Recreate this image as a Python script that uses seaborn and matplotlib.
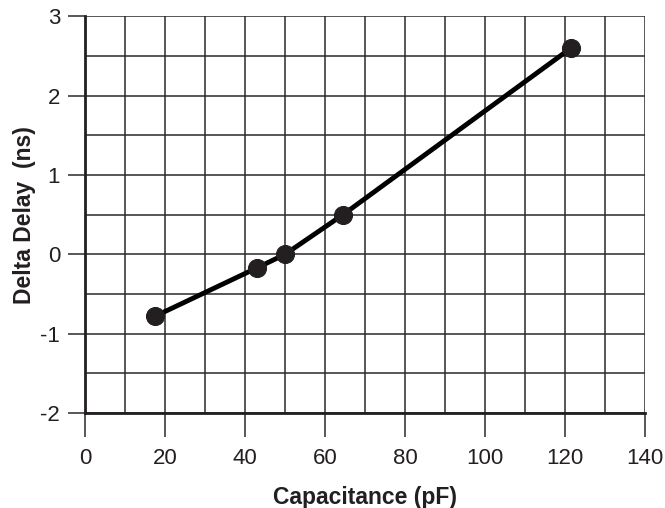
import numpy as np
import pandas as pd
import matplotlib
matplotlib.use("Agg")
import matplotlib.pyplot as plt
import seaborn as sns
from matplotlib.ticker import MultipleLocator

# data
capacitance = [17.5, 43, 50, 64.5, 121.5]
delta_delay = [-0.78, -0.17, 0.0, 0.5, 2.6]
x_ticks = [0, 20, 40, 60, 80, 100, 120, 140]
y_ticks = [-2, -1, 0, 1, 2, 3]

df = pd.DataFrame({"cap": capacitance, "delay": delta_delay})

sns.set_style("white")
plt.rcParams['font.family'] = ['Liberation Sans', 'DejaVu Sans']
plt.rcParams['axes.unicode_minus'] = False

fig = plt.figure(figsize=(6.65, 5.08), dpi=100)
ax = fig.add_axes([0.128, 0.187, 0.842, 0.781])

sns.lineplot(data=df, x="cap", y="delay", ax=ax, color="black", linewidth=3.5,
             marker="o", markersize=13, markerfacecolor="#231f20",
             markeredgecolor="#231f20", zorder=5)

ax.set_xlim(0, 140)
ax.set_ylim(-2, 3)
ax.set_xticks(x_ticks)
ax.set_yticks(y_ticks)
ax.xaxis.set_minor_locator(MultipleLocator(10))
ax.yaxis.set_minor_locator(MultipleLocator(0.5))
ax.grid(True, which="both", color="#2a2a2a", linewidth=1.1)
ax.set_axisbelow(True)

for s in ["top", "right"]:
    ax.spines[s].set_visible(False)
for s in ["left", "bottom"]:
    ax.spines[s].set_linewidth(2)
    ax.spines[s].set_color("#231f20")

ax.tick_params(axis="x", which="major", length=17, width=1.1, color="#2a2a2a",
               labelsize=16, pad=8, bottom=True, labelcolor="#231f20")
ax.tick_params(axis="y", which="major", length=12, width=1.1, color="#2a2a2a",
               labelsize=16, pad=6, left=True, labelcolor="#231f20")
ax.tick_params(which="minor", length=0)

ax.set_xlabel("Capacitance (pF)", fontsize=16.5, fontweight="bold", color="#231f20")
ax.set_ylabel("Delta Delay  (ns)", fontsize=16.5, fontweight="bold", color="#231f20")
ax.xaxis.set_label_coords(0.5, -0.183)
ax.yaxis.set_label_coords(-0.088, 0.5)

plt.savefig("out.png", dpi=100)
